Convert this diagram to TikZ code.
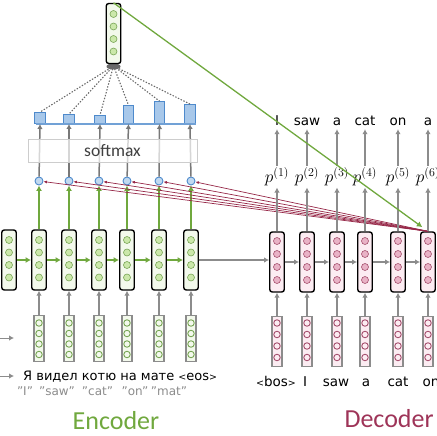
\documentclass[tikz,border=0pt]{standalone}
\usepackage{fontspec}
\setmainfont{DejaVu Sans}
\newfontfamily\headfont{Carlito}
\usetikzlibrary{arrows.meta}

\definecolor{encgreen}{RGB}{112,168,62}
\definecolor{encfill}{RGB}{243,249,236}
\definecolor{enccirc}{RGB}{203,232,170}
\definecolor{encedge}{RGB}{120,165,85}
\definecolor{decred}{RGB}{150,40,72}
\definecolor{dectext}{RGB}{158,52,88}
\definecolor{decfill}{RGB}{252,236,242}
\definecolor{deccirc}{RGB}{233,178,198}
\definecolor{decedge}{RGB}{165,80,110}
\definecolor{attblue}{RGB}{78,138,204}
\definecolor{attfill}{RGB}{168,200,234}
\definecolor{arrgrey}{RGB}{140,140,140}
\definecolor{dotgrey}{RGB}{105,105,105}
\definecolor{boxgrey}{RGB}{205,205,205}

\newcommand\smallang[1]{{\fontsize{9.5}{10}\selectfont#1}}

\begin{document}
\begin{tikzpicture}[x=1pt,y=1pt,yscale=-1,xscale=1,
  state/.style={draw=black,line width=1.4pt,rounded corners=2.5pt,minimum width=14.5pt,minimum height=60pt,inner sep=0pt},
  embed/.style={draw=arrgrey,line width=1.3pt,minimum width=10pt,minimum height=46pt,inner sep=0pt},
  unit/.style={circle,line width=0.6pt,minimum size=7pt,inner sep=0pt},
  encunit/.style={unit,draw=encedge,fill=enccirc},
  decunit/.style={unit,draw=decedge,fill=deccirc},
  encinput/.style={unit,draw=encedge,fill=encfill,line width=0.9pt,minimum size=6.5pt},
  decinput/.style={unit,draw=decedge,fill=decfill,line width=0.9pt,minimum size=6.5pt},
  score/.style={circle,draw=attblue,fill=attfill!70,line width=0.9pt,minimum size=8pt,inner sep=0pt},
  weight/.style={draw=attblue,fill=attfill,line width=0.9pt,minimum width=10.5pt,inner sep=0pt,anchor=south},
  greenarr/.style={draw=encgreen,line width=1.6pt,-{Latex[length=5.5pt,width=6pt]}},
  greyarr/.style={draw=arrgrey,line width=1.5pt,-{Latex[length=5pt,width=5.5pt]}},
  attnarr/.style={draw=decred,line width=0.7pt,-{Latex[length=3.5pt,width=3pt]}},
  dotline/.style={draw=dotgrey,line width=1.1pt,dash pattern=on 1.4pt off 1.6pt},
  word/.style={font=\fontsize{13.5}{15}\selectfont,inner sep=1pt,text height=9.5pt,text depth=2.5pt},
  plabel/.style={font=\fontsize{17}{20}\selectfont,inner sep=1pt},
  title/.style={font=\headfont\fontsize{26}{30}\selectfont}
]
\useasboundingbox (0,0) rectangle (437,436);

%Encoder hidden states
\node[state,fill=encfill] (eh0) at (9,260) {};
\foreach \i/\x in {1/39,2/69,3/99,4/127,5/159,6/191}
  \node[state,fill=encfill] (eh\i) at (\x,260) {};
\foreach \x in {9,39,69,99,127,159,191}
  \foreach \y in {240,252.5,265,277.5}
    \node[encunit] at (\x,\y) {};

%Encoder embeddings
\foreach \i/\x in {1/39,2/69,3/99,4/127,5/159,6/191}
  \node[embed,fill=encfill] (ex\i) at (\x,338.5) {};
\foreach \x in {39,69,99,127,159,191}
  \foreach \y in {323,333.5,344,354.5}
    \node[encinput] at (\x,\y) {};

%Decoder hidden states
\foreach \i/\x in {1/277,2/307,3/337,4/365,5/398,6/428}
  \node[state,fill=decfill] (dh\i) at (\x,262) {};
\foreach \x in {277,307,337,365,398,428}
  \foreach \y in {241,254,267,280}
    \node[decunit] at (\x,\y) {};

%Decoder embeddings
\foreach \i/\x in {1/277,2/307,3/337,4/365,5/398,6/428}
  \node[embed,fill=decfill,minimum height=50pt] (dx\i) at (\x,341.5) {};
\foreach \x in {277,307,337,365,398,428}
  \foreach \y in {323,334.5,346,357.5}
    \node[decinput] at (\x,\y) {};

%Attention scores and weights
\foreach \i/\x in {1/39,2/69,3/99,4/127,5/159,6/191}
  \node[score] (sc\i) at (\x,181) {};
\foreach \i/\x/\h in {1/40/11,2/69/9,3/100/8,4/128.5/18,5/159.5/22,6/190/19}
  \node[weight,minimum height=\h pt] (wt\i) at (\x,124) {};
\draw[attblue!80,line width=1.2pt] (36,124) -- (196,124);

%Context vector
\fill[dotgrey] (113.5,66.5) ellipse [x radius=7, y radius=3];
\coordinate (blob) at (113.5,66);
\node[state,fill=encfill] (ctx) at (113.5,33.5) {};
\foreach \y in {14,26.5,39,51.5}
  \node[encunit] at (113.5,\y) {};

% Connectors
\foreach \i/\j in {0/1,1/2,2/3,3/4,4/5,5/6}
  \draw[greenarr] (eh\i) -- (eh\j);
\foreach \i in {1,...,6} {
  \draw[greyarr] (ex\i) -- (eh\i);
  \draw[greenarr] (eh\i) -- (sc\i);
  \draw[greyarr,draw=dotgrey!90] (sc\i) -- (wt\i.south);
  \draw[dotline] (blob) -- (wt\i.north);
}
\draw[greyarr] (eh6) -- (eh6 -| dh1.west);
\foreach \i/\j in {1/2,2/3,3/4,4/5,5/6}
  \draw[greyarr] (dh\i) -- (dh\j);
\foreach \i in {1,...,6} {
  \draw[greyarr] (dx\i) -- (dh\i);
  \draw[attnarr] (dh6.north) -- (sc\i);
}

% softmax
\node[draw=boxgrey,line width=0.8pt,fill=white,fill opacity=0.7,text opacity=1,text=black!75,minimum width=169pt,minimum height=23pt,font=\headfont\fontsize{17.5}{20}\selectfont] (smax) at (112.5,150.5) {softmax};

% Decoder outputs
\foreach \i/\x/\w in {1/277/I,2/307/saw,3/337/a,4/365/cat,5/398/on,6/428/a} {
  \node[plabel] (pr\i) at (\x,177) {$p^{(\i)}$};
  \node[word] (out\i) at (\x,122) {\w};
  \draw[greyarr] (dh\i) -- (pr\i);
  \draw[greyarr] (pr\i) -- (out\i);
}
\draw[greenarr,line width=1.3pt,shorten >=7pt] (ctx.north) -- (dh6.north);

% Text Node
\foreach \i/\x/\w in {1/276/\smallang{<}bos\smallang{>},2/305/I,3/336/saw,4/366/a,5/398/cat,6/431/on}
  \node[word] (in\i) at (\x,383) {\w};
% Text Node
\node[word,anchor=west,font=\fontsize{13}{15}\selectfont] (encsent) at (22,377) {Я видел котю на мате \smallang{<}eos\smallang{>}};
% Text Node
\foreach \i/\x/\w in {1/25/"I",2/57/"saw",3/97.5/"cat",4/135/"on",5/169/"mat"}
  \node[inner sep=1pt,text=arrgrey,font=\fontsize{12}{14}\selectfont] (gloss\i) at (\x,391) {\w};

% side arrows
\coordinate (inA) at (0,338);
\coordinate (inAend) at (14,338);
\coordinate (inB) at (0,376);
\coordinate (inBend) at (14,376);
\draw[greyarr,line width=1pt] (inA) -- (inAend);
\draw[greyarr,line width=1pt] (inB) -- (inBend);

% Text Node
\node[title,text=encgreen] (enctitle) at (116,421) {Encoder};
% Text Node
\node[title,text=dectext,anchor=west] (dectitle) at (341,419) {Decoder};

\end{tikzpicture}
\end{document}
